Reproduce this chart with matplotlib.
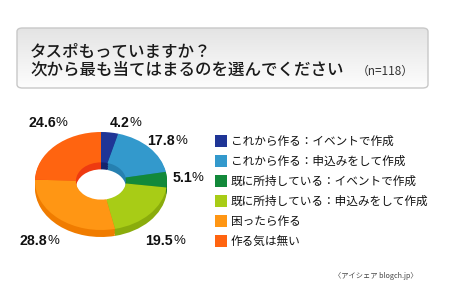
import matplotlib
matplotlib.use("Agg")
import matplotlib.pyplot as plt
import numpy as np
from matplotlib.patches import FancyBboxPatch

plt.rcParams['font.family'] = ['Noto Sans CJK JP', 'DejaVu Sans']

categories = ["これから作る：イベントで作成",
              "これから作る：申込みをして作成",
              "既に所持している：イベントで作成",
              "既に所持している：申込みをして作成",
              "困ったら作る",
              "作る気は無い"]
values = [4.2, 17.8, 5.1, 19.5, 28.8, 24.6]
labels = ["4.2", "17.8", "5.1", "19.5", "28.8", "24.6"]
colors = ["#1f3596", "#3399cc", "#12893a", "#a8cc16", "#ff9614", "#ff6410"]
side_colors = ["#14256e", "#2680b0", "#0b6b2a", "#8aac0c", "#f07c00", "#ee3a10"]
title1 = "タスポもっていますか？"
title2 = "次から最も当てはまるのを選んでください"
n_text = "（n=118）"
credit = "〈アイシェア blogch.jp〉"

W, H = 450, 300
fig = plt.figure(figsize=(W / 100, H / 100), dpi=100)
fig.patch.set_facecolor("white")

def fx(px):
    return px / W

def fy(py):
    return 1 - py / H

# Title box with gradient
bx0, by0, bx1, by1 = 17, 28, 428, 88
box = FancyBboxPatch((fx(bx0), fy(by1)), fx(bx1 - bx0), (by1 - by0) / H,
                     boxstyle="round,pad=0,rounding_size=0.012",
                     transform=fig.transFigure, facecolor="none",
                     edgecolor="#c8c8c8", linewidth=1.0, zorder=3)
fig.patches.append(box)
gax = fig.add_axes([0, 0, 1, 1], zorder=0)
gax.set_xlim(0, 1)
gax.set_ylim(0, 1)
gax.axis("off")
grad = np.linspace(1.0, 0.0, 100).reshape(-1, 1)
img = gax.imshow(grad, extent=[fx(bx0), fx(bx1), fy(by1), fy(by0)],
                 cmap=matplotlib.colors.LinearSegmentedColormap.from_list(
                     "g", ["#e4e4e4", "#fdfdfd"]),
                 aspect="auto", origin="lower", zorder=1)
clip = FancyBboxPatch((fx(bx0), fy(by1)), fx(bx1 - bx0), (by1 - by0) / H,
                      boxstyle="round,pad=0,rounding_size=0.012",
                      transform=fig.transFigure, facecolor="none", edgecolor="none")
img.set_clip_path(clip)

fig.text(fx(30), fy(52), title1, fontsize=11.9, color="#1a1a1a",
         va="center", ha="left", zorder=5, fontweight="medium")
fig.text(fx(30), fy(70), title2, fontsize=11.9, color="#1a1a1a",
         va="center", ha="left", zorder=5, fontweight="medium")
fig.text(fx(357), fy(71), n_text, fontsize=8.5, color="#333333",
         va="center", ha="left", zorder=5)

# Donut axes: units so that rx=66px, ry=49px
rx, ry = 66.0, 49.0
cx, cy = 101.0, 181.0
al, ar, at, ab = 20, 200, 110, 262
ax = fig.add_axes([fx(al), fy(ab), fx(ar - al), (ab - at) / H], zorder=2)

inner = 0.38
shift = 7.0 / ry
for k in np.linspace(shift, 0.02, 4):
    ax.pie(values, colors=side_colors, startangle=90, counterclock=False,
           radius=1.0, center=(0, -k),
           wedgeprops=dict(width=1 - inner, linewidth=0))
ax.pie(values, colors=colors, startangle=90, counterclock=False,
       radius=1.0, center=(0, 0),
       wedgeprops=dict(width=1 - inner, linewidth=0))
ax.set_xlim(-(cx - al) / rx, (ar - cx) / rx)
ax.set_ylim(-(ab - cy) / ry, (cy - at) / ry)
ax.set_aspect("auto")
ax.axis("off")

# Percentage labels (pixel positions: right end of number, centre y)
label_pos = [(130, 123), (175, 141), (192, 178), (173, 241), (47, 241), (56, 123)]
for (px, py), lab in zip(label_pos, labels):
    fig.text(fx(px), fy(py), lab, fontsize=10.2, fontweight="bold",
             color="#111111", ha="right", va="center", zorder=5,
             family=["Liberation Sans", "DejaVu Sans"])
    fig.text(fx(px), fy(py), "%", fontsize=9.5, color="#111111",
             ha="left", va="center", zorder=5,
             family=["Liberation Sans", "DejaVu Sans"])

# Legend
for i, (cat, col) in enumerate(zip(categories, colors)):
    yy = 141 + 20 * i
    fig.patches.append(matplotlib.patches.Rectangle(
        (fx(215), fy(yy + 6)), fx(12), 12 / H, transform=fig.transFigure,
        facecolor=col, edgecolor="none", zorder=5))
    fig.text(fx(231), fy(yy), cat, fontsize=8.4, color="#111111",
             ha="left", va="center", zorder=5)

fig.text(fx(376), fy(276), credit, fontsize=5.2, color="#444444",
         ha="center", va="center", zorder=5)

fig.savefig("out.png", dpi=100, facecolor="white")
